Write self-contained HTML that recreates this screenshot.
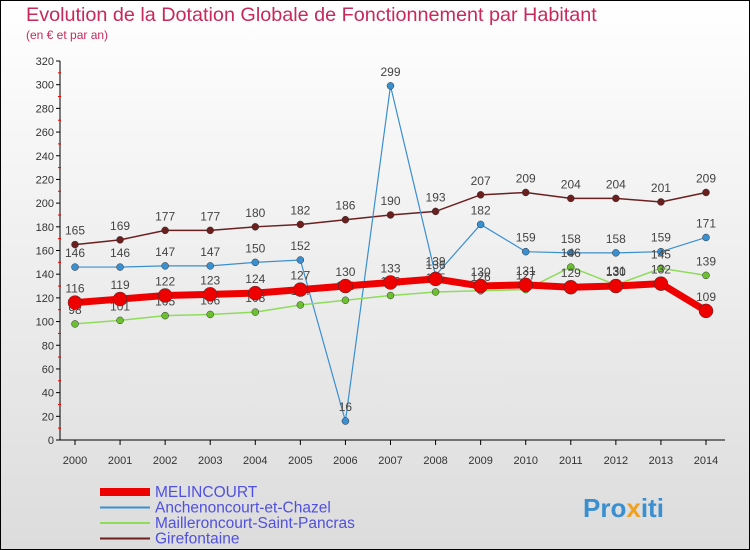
<!DOCTYPE html>
<html><head><meta charset="utf-8"><style>
html,body{margin:0;padding:0}
body{width:750px;height:550px;overflow:hidden;font-family:"Liberation Sans",sans-serif}
svg{display:block}
</style></head><body>
<svg id="c" width="750" height="550" xmlns="http://www.w3.org/2000/svg">
<defs><linearGradient id="bg" x1="0" y1="0" x2="0" y2="1"><stop offset="0" stop-color="#ffffff"/><stop offset="1" stop-color="#dcdcdc"/></linearGradient></defs>
<rect x="0.5" y="0.5" width="749" height="549" fill="url(#bg)" stroke="#000"/>
<text x="26" y="21" font-size="19.8" fill="#c8285a">Evolution de la Dotation Globale de Fonctionnement par Habitant</text>
<text x="26" y="39" font-size="12" fill="#c8285a">(en € et par an)</text>
<g id="axes"></g><g id="series"></g><g id="legend"></g>
<text x="583" y="517" font-size="26" font-weight="bold" fill="#3a8fd0">Pro<tspan fill="#f0a020">x</tspan>iti</text>
</svg>
<script>
const years=[2000,2001,2002,2003,2004,2005,2006,2007,2008,2009,2010,2011,2012,2013,2014];
const yTicks=[0,20,40,60,80,100,120,140,160,180,200,220,240,260,280,300,320];
const melincourt=[116,119,122,123,124,127,130,133,136,130,131,129,130,132,109];
const anchenoncourt=[146,146,147,147,150,152,16,299,139,182,159,158,158,159,171];
const mailleroncourt=[98,101,105,106,108,114,118,122,125,126,127,146,131,145,139];
const girefontaine=[165,169,177,177,180,182,186,190,193,207,209,204,204,201,209];
const names=["MELINCOURT","Anchenoncourt-et-Chazel","Mailleroncourt-Saint-Pancras","Girefontaine"];
const NS="http://www.w3.org/2000/svg";
const X=i=>75+i*(631/14), Y=v=>440-v*(379/320);
function mk(t,a,p){const e=document.createElementNS(NS,t);for(const k in a)e.setAttribute(k,a[k]);p.appendChild(e);return e;}
const ax=document.getElementById('axes');
let yl=mk('line',{x1:60,y1:61,x2:60,y2:440,stroke:'#000'},ax);


let xl=mk('line',{x1:60,y1:440,x2:725,y2:440,stroke:'#000'},ax);


yTicks.forEach(v=>{
 mk('line',{x1:56,y1:Y(v),x2:60,y2:Y(v),stroke:'#000'},ax);
 if(v<320) mk('line',{x1:58,y1:Y(v+10),x2:61,y2:Y(v+10),stroke:'#e00'},ax);
 const t=mk('text',{x:54,y:Y(v)+4,'font-size':11,'text-anchor':'end',fill:'#333'},ax);t.textContent=v;
 
 
});
years.forEach((y,i)=>{
 mk('line',{x1:X(i),y1:440,x2:X(i),y2:445,stroke:'#000'},ax);
 const t=mk('text',{x:X(i),y:464,'font-size':11,'text-anchor':'middle',fill:'#333'},ax);t.textContent=y;
 
 
});
const sg=document.getElementById('series');
const defs=[[girefontaine,'#6b1f1f','#6b1f1f',1.5,3.5,'girefontaine'],[anchenoncourt,'#3a8fd0','#3a8fd0',1.2,3.5,'anchenoncourt'],[mailleroncourt,'#8fdc5a','#6cc030',1.5,3.5,'mailleroncourt'],[melincourt,'#ee0000','#ee0000',7,7,'melincourt']];
defs.forEach(([d,c,dc,w,r,n])=>{
 const g=mk('g',{},sg);
 
 
 const p=mk('polyline',{points:d.map((v,i)=>X(i)+','+Y(v)).join(' '),fill:'none',stroke:c,'stroke-width':w},g);
 
 
 d.forEach((v,i)=>{
  const m=mk('circle',{cx:X(i),cy:Y(v),r:r,fill:dc,stroke:'#333','stroke-width':0.5},g);
  
  
  const t=mk('text',{x:X(i),y:Y(v)-10,'font-size':12,'text-anchor':'middle',fill:'#444'},g);t.textContent=v;
  
  
 });
});
const lg=document.getElementById('legend');
const lc=['#ee0000','#3a8fd0','#8fdc5a','#6b1f1f'],lw=[8,2,2,2];
names.forEach((n,i)=>{
 const y=492+i*15.5;
 const g=mk('g',{},lg);
 
 
 mk('line',{x1:100,y1:y,x2:150,y2:y,stroke:lc[i],'stroke-width':lw[i]},g);
 const t=mk('text',{x:155,y:y+5,'font-size':15.5,fill:'#5050e0'},g);t.textContent=n;
});
</script>
</body></html>
